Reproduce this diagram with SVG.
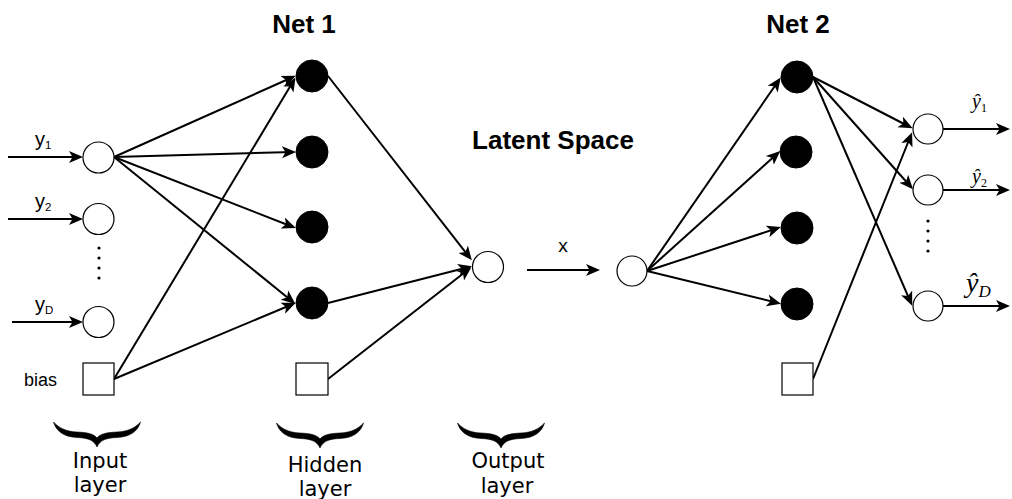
<svg xmlns="http://www.w3.org/2000/svg" width="1012" height="499" viewBox="0 0 1012 499">
<style>
.t{font-family:"Liberation Sans",Arial,sans-serif;fill:#000}
.title{font-family:"Liberation Sans",Arial,sans-serif;font-weight:bold;font-size:26px;text-anchor:middle}
.lbl{font-family:"DejaVu Sans",Verdana,sans-serif;font-size:21px;text-anchor:middle}
.yh{font-family:"Liberation Serif","Times New Roman",serif;font-style:italic}
.open{fill:#fff;stroke:#000;stroke-width:1.2}
.fill{fill:#000;stroke:#000;stroke-width:1}
.edge{fill:none;stroke:#000;stroke-width:2;marker-end:url(#arr)}
.brace{fill:#000;stroke:#000;stroke-width:0.6}
</style>
<defs>
<marker id="arr" markerUnits="userSpaceOnUse" markerWidth="15" markerHeight="13" refX="11" refY="6.5" orient="auto">
<path d="M0,0.5 L14,6.5 L0,12.5 L3.5,6.5 Z" fill="#000"/>
</marker>
<path id="br" d="M-43.5,0 C-41,9 -33,15 -20,15.5 C-9,16 -3,18 0,25 C3,18 9,16 20,15.5 C33,15 41,9 43.5,0 C38,6 31,9.5 20,10 C9,10.5 3,12 0,16 C-3,12 -9,10.5 -20,10 C-31,9.5 -38,6 -43.5,0 Z"/>
</defs>
<rect width="1012" height="499" fill="#fff"/>

<g id="titles">
<text class="title" x="304" y="33">Net 1</text>
<text class="title" x="798" y="33">Net 2</text>
<text class="title" x="553" y="149">Latent Space</text>
</g>

<g id="connectors">
<path class="edge" d="M8,157 L80,157"/>
<path class="edge" d="M8,219 L80,219"/>
<path class="edge" d="M12,322 L80,322"/>
<path class="edge" d="M114,157 L293,77"/>
<path class="edge" d="M114,157 L293,152"/>
<path class="edge" d="M114,157 L293,227"/>
<path class="edge" d="M114,157 L293,302"/>
<path class="edge" d="M114,379 L294,80"/>
<path class="edge" d="M114,379 L293,304"/>
<path class="edge" d="M328,76 L470,258"/>
<path class="edge" d="M328,303 L469,267"/>
<path class="edge" d="M328,379 L469,269"/>
<path class="edge" d="M527,270 L597,270"/>
<path class="edge" d="M647,271 L779,80"/>
<path class="edge" d="M647,271 L778,153"/>
<path class="edge" d="M647,271 L778,228"/>
<path class="edge" d="M647,271 L778,303"/>
<path class="edge" d="M813,77 L910,127"/>
<path class="edge" d="M813,77 L911,187"/>
<path class="edge" d="M813,77 L911,303"/>
<path class="edge" d="M813,379 L911,135"/>
<path class="edge" d="M943,129 L1007,129"/>
<path class="edge" d="M943,190 L1007,190"/>
<path class="edge" d="M943,306 L1007,306"/>
</g>

<g id="input-labels">
<text class="t" x="35" y="146" font-size="20">y<tspan font-size="11.5" dy="3">1</tspan></text>
<text class="t" x="35" y="208" font-size="20">y<tspan font-size="11.5" dy="3">2</tspan></text>
<text class="t" x="35" y="311" font-size="20">y<tspan font-size="11.5" dy="3">D</tspan></text>
<text class="t" x="24" y="386" font-size="18">bias</text>
<text class="t" x="563" y="252" font-size="19" text-anchor="middle">x</text>
</g>

<g id="input-y1"><circle class="open" cx="98.5" cy="157.5" r="15.5"/></g>
<g id="input-y2"><circle class="open" cx="98.5" cy="219" r="15.5"/></g>
<g id="input-dots" fill="#000">
<circle cx="99" cy="248" r="1.6"/><circle cx="99" cy="258" r="1.6"/><circle cx="99" cy="268" r="1.6"/><circle cx="99" cy="278" r="1.6"/>
</g>
<g id="input-yD"><circle class="open" cx="98.5" cy="322" r="15.5"/></g>
<g id="input-bias"><rect class="open" x="83" y="363" width="31" height="32"/></g>

<g id="net1-h1"><circle class="fill" cx="312" cy="76" r="16"/></g>
<g id="net1-h2"><circle class="fill" cx="312" cy="152" r="16"/></g>
<g id="net1-h3"><circle class="fill" cx="312" cy="227" r="16"/></g>
<g id="net1-h4"><circle class="fill" cx="312" cy="303" r="16"/></g>
<g id="net1-bias"><rect class="open" x="296" y="363" width="32" height="32"/></g>
<g id="net1-out"><circle class="open" cx="488" cy="267" r="15.5"/></g>

<g id="net2-in"><circle class="open" cx="632" cy="271" r="15"/></g>
<g id="net2-h1"><circle class="fill" cx="797" cy="77" r="16"/></g>
<g id="net2-h2"><circle class="fill" cx="796" cy="152" r="16"/></g>
<g id="net2-h3"><circle class="fill" cx="797" cy="228" r="16"/></g>
<g id="net2-h4"><circle class="fill" cx="797" cy="304" r="16"/></g>
<g id="net2-bias"><rect class="open" x="782" y="363" width="31" height="32"/></g>

<g id="net2-o1"><circle class="open" cx="928" cy="129" r="15"/></g>
<g id="net2-o2"><circle class="open" cx="928" cy="190" r="15"/></g>
<g id="net2-dots" fill="#000">
<circle cx="928" cy="221" r="1.6"/><circle cx="928" cy="231" r="1.6"/><circle cx="928" cy="241" r="1.6"/><circle cx="928" cy="251" r="1.6"/>
</g>
<g id="net2-oD"><circle class="open" cx="928" cy="306" r="15"/></g>

<g id="output-labels">
<text class="yh" x="972" y="107.5" font-size="20">ŷ<tspan font-style="normal" font-size="12" dy="4.5">1</tspan></text>
<text class="yh" x="972" y="182.5" font-size="20">ŷ<tspan font-style="normal" font-size="12" dy="4.5">2</tspan></text>
<text class="yh" x="966" y="292" font-size="28">ŷ<tspan font-size="17" dy="5">D</tspan></text>
</g>

<g id="braces">
<use href="#br" class="brace" x="97" y="422"/>
<use href="#br" class="brace" x="320" y="423"/>
<use href="#br" class="brace" x="501" y="423"/>
</g>

<g id="layer-labels">
<text class="lbl" x="100" y="468">Input</text>
<text class="lbl" x="100" y="492">layer</text>
<text class="lbl" x="325" y="472">Hidden</text>
<text class="lbl" x="325" y="496">layer</text>
<text class="lbl" x="508" y="468">Output</text>
<text class="lbl" x="507" y="493">layer</text>
</g>
</svg>
